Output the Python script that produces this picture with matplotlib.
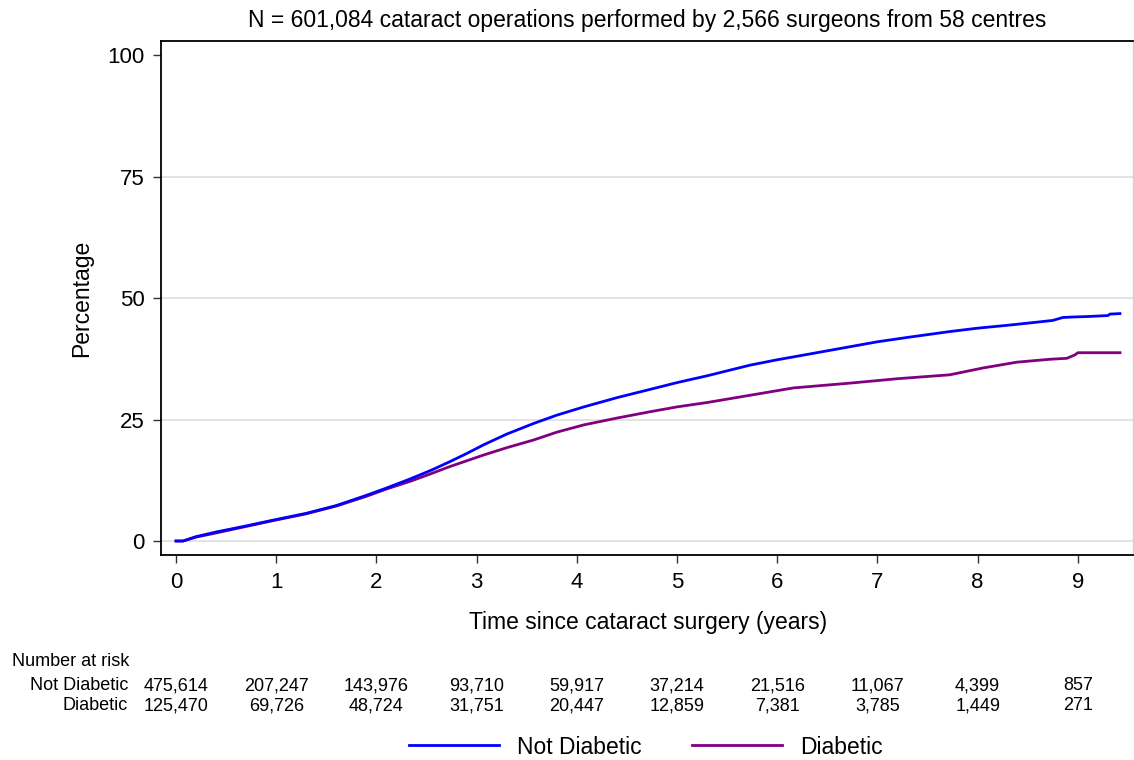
import matplotlib
matplotlib.use("Agg")
import matplotlib.pyplot as plt
from matplotlib.lines import Line2D
from matplotlib.transforms import blended_transform_factory

plt.rcParams['font.family'] = ['Liberation Sans', 'DejaVu Sans']

# Cumulative incidence (%) over years since surgery
t_not_diab = [0, 0.07, 0.2, 0.41, 0.7, 0.97, 1.3, 1.6, 1.9, 2.1, 2.34, 2.55, 2.73, 2.9,
              3.07, 3.3, 3.57, 3.8, 4.07, 4.4, 4.73, 5.0, 5.3, 5.73, 6.0, 6.3, 6.73, 7.0,
              7.3, 7.72, 8.0, 8.3, 8.62, 8.75, 8.85, 8.95, 9.1, 9.3, 9.32, 9.42]
y_not_diab = [0, 0, 0.9, 1.9, 3.1, 4.3, 5.7, 7.3, 9.4, 10.9, 12.8, 14.6, 16.3, 18.0,
              19.8, 22.0, 24.2, 25.9, 27.6, 29.5, 31.2, 32.6, 34.0, 36.2, 37.3, 38.4, 40.0, 41.0,
              41.9, 43.1, 43.8, 44.4, 45.1, 45.4, 46.0, 46.1, 46.2, 46.4, 46.7, 46.8]

t_diab = [0, 0.07, 0.2, 0.41, 0.7, 0.97, 1.3, 1.6, 1.9, 2.1, 2.34, 2.55, 2.73, 2.9,
          3.07, 3.3, 3.57, 3.8, 4.07, 4.4, 4.73, 5.0, 5.3, 5.73, 6.16, 6.73, 7.2, 7.72,
          8.05, 8.39, 8.72, 8.89, 8.97, 9.0, 9.42]
y_diab = [0, 0, 0.8, 1.7, 3.0, 4.2, 5.6, 7.2, 9.2, 10.7, 12.3, 13.9, 15.3, 16.5,
          17.7, 19.2, 20.8, 22.4, 23.9, 25.3, 26.6, 27.6, 28.5, 30.0, 31.5, 32.5, 33.4, 34.2,
          35.6, 36.8, 37.4, 37.6, 38.3, 38.75, 38.75]

risk_times = [0, 1, 2, 3, 4, 5, 6, 7, 8, 9]
risk_not_diab = ["475,614", "207,247", "143,976", "93,710", "59,917",
                 "37,214", "21,516", "11,067", "4,399", "857"]
risk_diab = ["125,470", "69,726", "48,724", "31,751", "20,447",
             "12,859", "7,381", "3,785", "1,449", "271"]

y_ticks = [0, 25, 50, 75, 100]
x_ticks = [0, 1, 2, 3, 4, 5, 6, 7, 8, 9]

BLUE = '#0000ff'
PURPLE = '#800080'

W, H = 1134, 760
fig = plt.figure(figsize=(W / 100, H / 100), dpi=100)
ax = fig.add_axes([161 / W, 1 - 555 / H, (1133 - 161) / W, (555 - 41) / H])

for g in [0, 25, 50, 75]:
    ax.axhline(g, color='#e0e0e0', lw=1.3, zorder=0)

ax.plot(t_not_diab, y_not_diab, color=BLUE, lw=2.0, zorder=3)
ax.plot(t_diab, y_diab, color=PURPLE, lw=2.0, zorder=2)

ax.set_xlim(-0.15, 9.55)
ax.set_ylim(-2.88, 102.9)
ax.set_xticks(x_ticks)
ax.set_yticks(y_ticks)
ax.tick_params(axis='both', labelsize=16, length=6, width=1.0, color='#333333')
ax.tick_params(axis='x', pad=6)
ax.tick_params(axis='y', pad=6)

for s in ['left', 'bottom', 'top']:
    ax.spines[s].set_color('black')
    ax.spines[s].set_linewidth(1.3)
ax.spines['right'].set_color('#d0d0d0')
ax.spines['right'].set_linewidth(1.0)

fig.text(647 / W, 1 - 20 / H,
         "N = 601,084 cataract operations performed by 2,566 surgeons from 58 centres",
         ha='center', va='center', fontsize=16.5)
fig.text(82 / W, 1 - 298 / H, "Percentage", rotation=90, ha='center', va='center', fontsize=16.5)
fig.text(648 / W, 1 - 622 / H, "Time since cataract surgery (years)",
         ha='center', va='center', fontsize=16.5)

# Number-at-risk table aligned to the x-axis ticks
tr = blended_transform_factory(ax.transData, fig.transFigure)
fs_tab = 13
fig.text(12 / W, 1 - 662 / H, "Number at risk", ha='left', va='center', fontsize=fs_tab)
fig.text(128 / W, 1 - 686 / H, "Not Diabetic", ha='right', va='center', fontsize=fs_tab)
fig.text(128 / W, 1 - 706 / H, "Diabetic", ha='right', va='center', fontsize=fs_tab)
for t, a, b in zip(risk_times, risk_not_diab, risk_diab):
    fig.text(t, 1 - 686 / H, a, transform=tr, ha='center', va='center', fontsize=fs_tab)
    fig.text(t, 1 - 706 / H, b, transform=tr, ha='center', va='center', fontsize=fs_tab)

handles = [Line2D([], [], color=BLUE, lw=2.0), Line2D([], [], color=PURPLE, lw=2.0)]
fig.legend(handles, ["Not Diabetic", "Diabetic"], loc='center',
           bbox_to_anchor=(646 / W, 1 - 747 / H), ncol=2, frameon=False,
           fontsize=16.5, handlelength=3.9, handletextpad=0.8, columnspacing=2.2)

fig.savefig("out.png", dpi=100)
